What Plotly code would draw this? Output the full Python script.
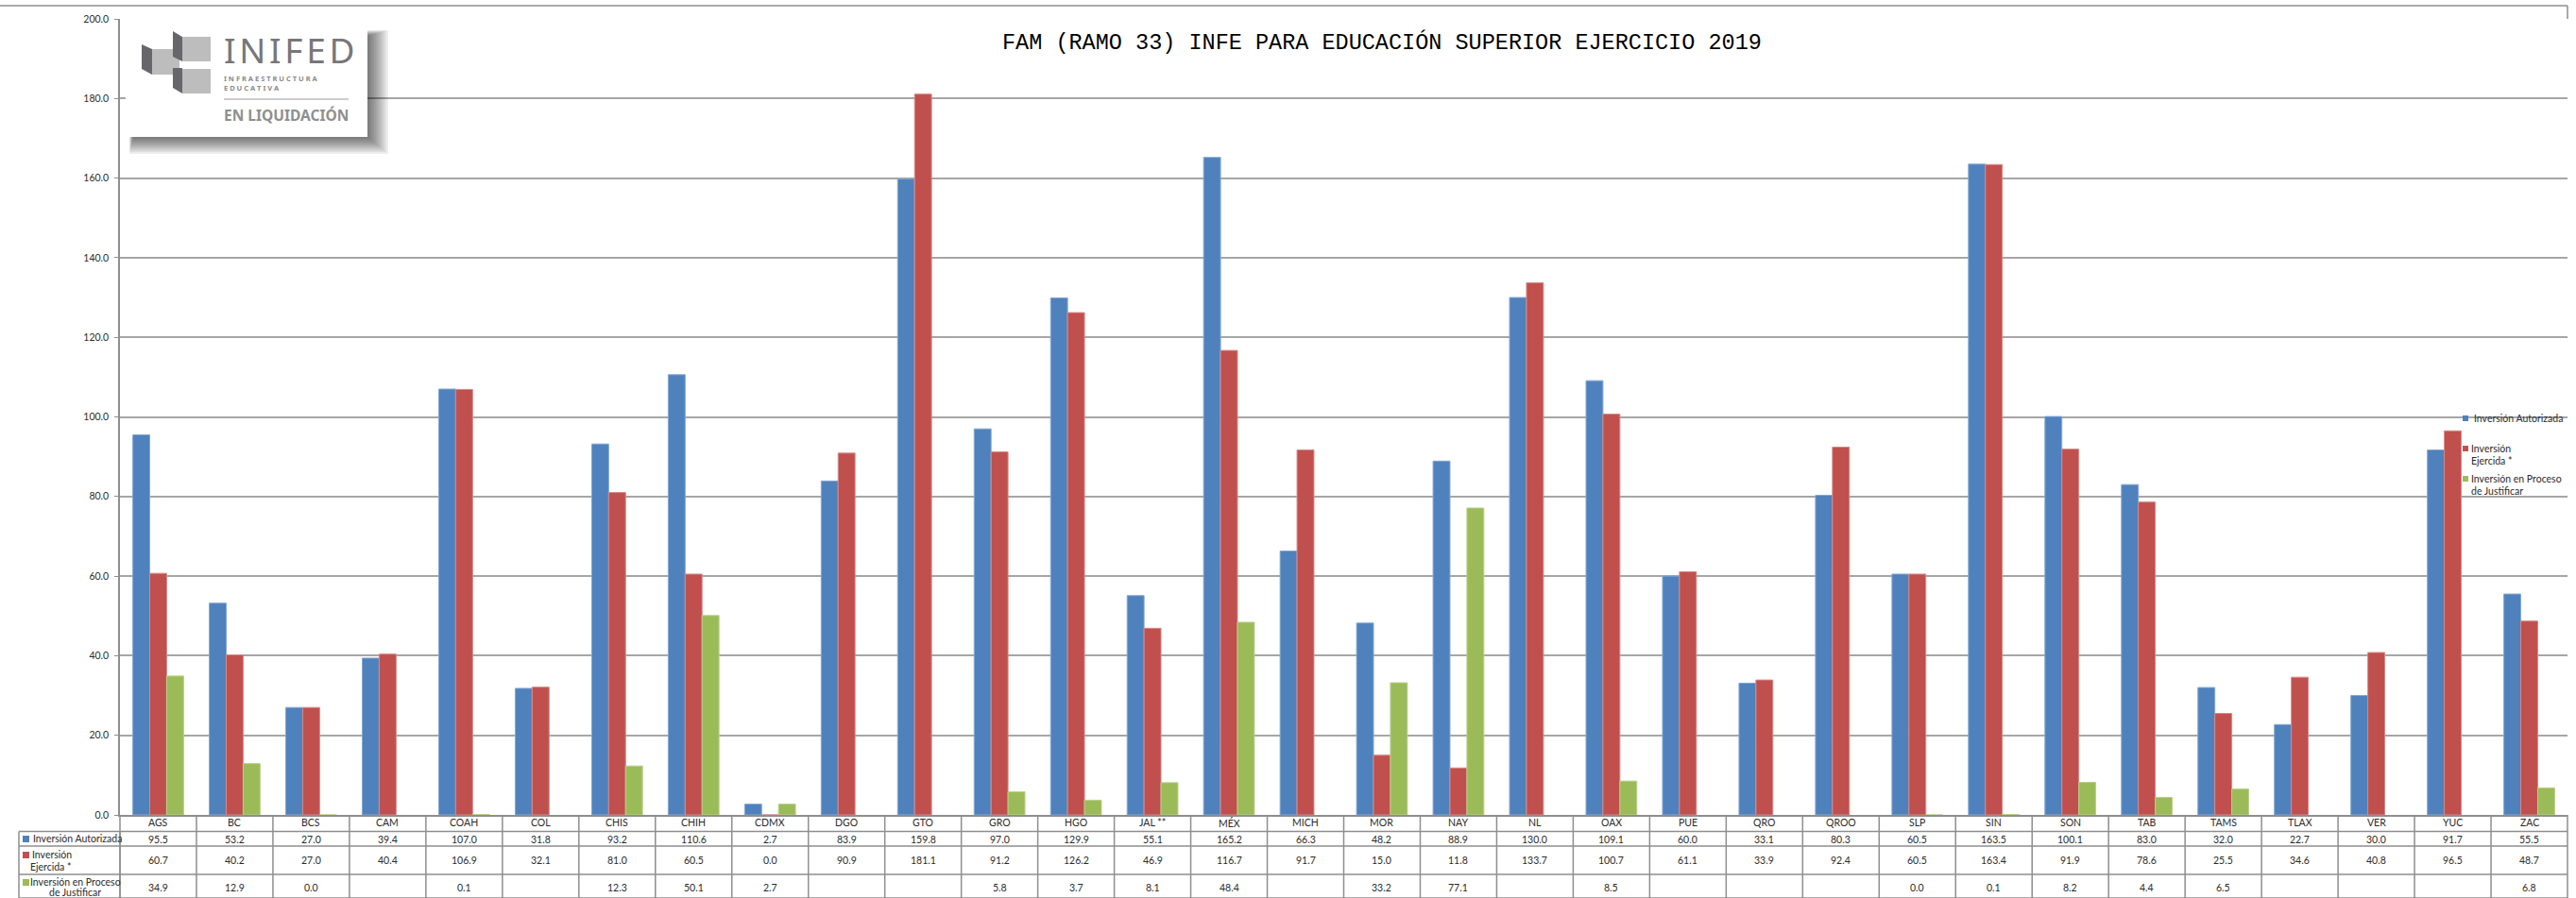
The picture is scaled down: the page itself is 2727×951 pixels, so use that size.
import plotly.graph_objects as go

categories = ["AGS","BC","BCS","CAM","COAH","COL","CHIS","CHIH","CDMX","DGO","GTO","GRO","HGO","JAL **","MÉX","MICH","MOR","NAY","NL","OAX","PUE","QRO","QROO","SLP","SIN","SON","TAB","TAMS","TLAX","VER","YUC","ZAC"]
autorizada = [95.5,53.2,27.0,39.4,107.0,31.8,93.2,110.6,2.7,83.9,159.8,97.0,129.9,55.1,165.2,66.3,48.2,88.9,130.0,109.1,60.0,33.1,80.3,60.5,163.5,100.1,83.0,32.0,22.7,30.0,91.7,55.5]
ejercida = [60.7,40.2,27.0,40.4,106.9,32.1,81.0,60.5,0.0,90.9,181.1,91.2,126.2,46.9,116.7,91.7,15.0,11.8,133.7,100.7,61.1,33.9,92.4,60.5,163.4,91.9,78.6,25.5,34.6,40.8,96.5,48.7]
justificar = [34.9,12.9,0.0,None,0.1,None,12.3,50.1,2.7,None,None,5.8,3.7,8.1,48.4,None,33.2,77.1,None,8.5,None,None,None,0.0,0.1,8.2,4.4,6.5,None,None,None,6.8]
series_names = ["Inversión Autorizada", "Inversión Ejercida *", "Inversión en Proceso de Justificar"]
colors = ["#4F81BD", "#C0504D", "#9BBB59"]
edge_colors = ["#84A8D2", "#D58A88", "#B9D08A"]
title_text = "FAM (RAMO 33) INFE PARA EDUCACIÓN SUPERIOR EJERCICIO 2019"

W, H = 2727, 951
L, R, T, B = 127, 2718, 20, 863
GRID = "#8E8E8E"
TXT = "#2B2B2B"
FONT = "Lato, 'Open Sans', sans-serif"
FS = 10.5

def px(x): return (x - L) / (R - L)
def py(y): return (B - y) / (B - T)

shapes, ann = [], []
def rect(x0, y0, x1, y1, fill, layer="above", opacity=None):
    d = dict(type="rect", xref="paper", yref="paper", x0=px(x0), x1=px(x1), y0=py(y1), y1=py(y0),
             fillcolor=fill, line=dict(width=0), layer=layer)
    if opacity is not None:
        d["opacity"] = opacity
    shapes.append(d)
def line(x0, y0, x1, y1, color=GRID, w=1.5, layer="above"):
    shapes.append(dict(type="line", xref="paper", yref="paper", x0=px(x0), x1=px(x1), y0=py(y0), y1=py(y1),
                       line=dict(color=color, width=w), layer=layer))
def poly(points, fill):
    path = "M " + " L ".join(f"{px(a):.5f},{py(b):.5f}" for a, b in points) + " Z"
    shapes.append(dict(type="path", xref="paper", yref="paper", path=path, fillcolor=fill, line=dict(width=0), layer="above"))
def text(x, y, s, size=FS, color=TXT, anchor="center", family=FONT):
    ann.append(dict(xref="paper", yref="paper", x=px(x), y=py(y), text=s, showarrow=False, xanchor=anchor, yanchor="middle",
                    font=dict(size=size, color=color, family=family), align="left", borderpad=0, borderwidth=0))

# outer frame and table grid
line(0, 6, R, 6)
line(R, 6, R, 20)
rows = [880.5, 896, 926, 951]
n = len(categories)
cw = (R - L) / n
for i in range(n + 1):
    line(L + i * cw, B, L + i * cw, H)
for y in rows:
    line(20, y, R, y)
line(20, 880.5, 20, H)
line(L, 880.5, L, H)

# category labels (table header row) and values
for c in categories:
    ann.append(dict(xref="x", yref="paper", x=c, y=py(871.5), text=c, showarrow=False,
                    font=dict(size=FS, color=TXT, family=FONT), yanchor="middle"))
row_y = [888.5, 911, 940]
for vals, y in zip([autorizada, ejercida, justificar], row_y):
    for i, v in enumerate(vals):
        if v is not None:
            ann.append(dict(xref="x", yref="paper", x=categories[i], y=py(y), text=f"{v:.1f}", showarrow=False,
                            font=dict(size=FS, color=TXT, family=FONT), yanchor="middle"))

# table row headers
rect(24, 885, 31, 892, colors[0])
text(35, 888, series_names[0], anchor="left")
rect(24, 902, 31, 909, colors[1])
text(34, 905, "Inversión", anchor="left")
text(32, 918, "Ejercida *", anchor="left")
rect(24, 931, 31, 938, colors[2])
text(32, 934, "Inversión en Proceso", anchor="left")
text(52, 944.5, "de Justificar", anchor="left")

# legend at right of the plot
rect(2607, 440, 2613, 446, colors[0])
text(2619, 443, series_names[0], anchor="left")
rect(2607, 472, 2613, 478, colors[1])
text(2616, 475, "Inversión", anchor="left")
text(2616, 488, "Ejercida *", anchor="left")
rect(2607, 504, 2613, 510, colors[2])
text(2616, 507, "Inversión en Proceso", anchor="left")
text(2616, 520, "de Justificar", anchor="left")

# title
text(1463, 45, title_text, size=23.5, color="#000000", family="'Liberation Mono', monospace")

# logo card with a soft shadow
for k in range(10):
    g = 1 - k / 10
    rect(137 + k * 0.4, 32 + k * 0.6, 389 + 22 * g, 145 + 18 * g, "#000000", opacity=0.065)
rect(133, 27, 389, 145, "#FFFFFF")
poly([(150, 47), (161, 52), (161, 79), (150, 73)], "#66666B")
rect(161, 52, 190, 79, "#BDBDBD")
poly([(183, 33), (193, 39), (193, 65), (183, 60)], "#66666B")
rect(193, 39, 223, 65, "#BDBDBD")
poly([(183, 72), (193, 72), (193, 99), (183, 93)], "#66666B")
rect(193, 73, 223, 99, "#BDBDBD")
text(237, 53, "I\u200aN\u200aI\u200aF\u200aE\u200aD", size=37, color="#77777A", anchor="left", family="'Noto Sans', sans-serif")
text(237, 83, "<b>I N F R A E S T R U C T U R A</b>", size=7.5, color="#8A8A8A", anchor="left", family="'Noto Sans', sans-serif")
text(237, 93, "<b>E D U C A T I V A</b>", size=7.5, color="#8A8A8A", anchor="left", family="'Noto Sans', sans-serif")
line(237, 105, 369, 105, color="#9A9A9A", w=1)
text(237, 122, "<b>EN LIQUIDACIÓN</b>", size=15.5, color="#8F8F8F", anchor="left", family="'Noto Sans', sans-serif")

fig = go.Figure()
for name, vals, c, e in zip(series_names, [autorizada, ejercida, justificar], colors, edge_colors):
    fig.add_bar(name=name, x=categories, y=vals, marker=dict(color=c, line=dict(width=1, color=e)))

fig.update_layout(
    width=W, height=H, autosize=False,
    margin=dict(l=L, r=W - R, t=T, b=H - B, pad=0),
    paper_bgcolor="white", plot_bgcolor="white",
    barmode="group", bargap=0.336, bargroupgap=0,
    font=dict(family=FONT, size=FS, color=TXT),
    showlegend=False,
    shapes=shapes, annotations=ann,
    xaxis=dict(type="category", categoryorder="array", categoryarray=categories, showgrid=False, showline=True,
               linecolor=GRID, linewidth=1.5, ticks="", showticklabels=False),
    yaxis=dict(range=[0, 200], dtick=20, tickformat=".1f", showgrid=True, gridcolor="#A6A6A6", gridwidth=1.5, showline=True,
               linecolor=GRID, linewidth=1.5, ticks="outside", ticklen=4, tickcolor=GRID, zeroline=False,
               ticklabelstandoff=4, tickfont=dict(size=FS, color=TXT)),
)
fig.write_html("out.html", config=dict(displayModeBar=False),
               post_script="document.body.style.margin='0';document.body.style.overflow='hidden';")
